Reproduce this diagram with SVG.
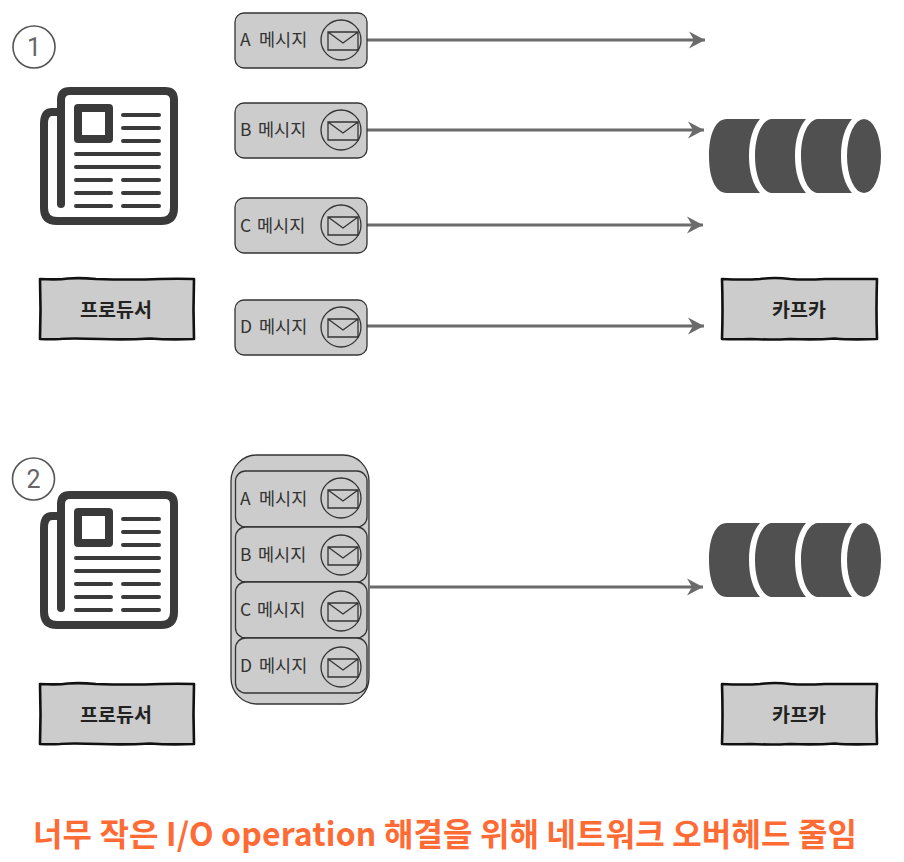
<svg xmlns="http://www.w3.org/2000/svg" width="904" height="862" viewBox="0 0 904 862">
<style>
text{font-family:"Noto Sans CJK KR","Noto Sans",sans-serif}
.msg{fill:#ccc;stroke:#333;stroke-width:1.3}
.line{fill:none;stroke:#333;stroke-width:1.3}
.lbl{font-size:17.500px;fill:#333}
.box{fill:#ccc;stroke:#111;stroke-width:2.6;stroke-linejoin:round}
.name{font-size:19.500px;font-weight:700;fill:#222;text-anchor:middle}
.num{fill:#fff;stroke:#555;stroke-width:1.6}
.numt{font-family:Roboto,sans-serif;font-size:25px;font-weight:400;fill:#666;text-anchor:middle}
.arrow{fill:none;stroke:#6b6b6b;stroke-width:3;marker-end:url(#head)}
.ico{fill:none;stroke:#3a3a3a;stroke-width:8;stroke-linecap:round;stroke-linejoin:round}
.ln{fill:none;stroke:#3a3a3a;stroke-width:4;stroke-linecap:round}
.title{font-size:32px;font-weight:700;fill:#ff6b35}
</style>
<defs>
<marker id="head" markerUnits="userSpaceOnUse" markerWidth="18" markerHeight="18" refX="17" refY="9" orient="auto">
<path d="M1 0.500L17 9L1 17.500L6 9Z" fill="#6b6b6b"/>
</marker>
<g id="env">
<circle cx="0" cy="0" r="20" class="line"/>
<path d="M-13-8H17V10H-13Z M-13-8L2 3L17-8" class="line"/>
</g>
<g id="paper">
<path d="M61 204V100Q61 91 70 91H165Q174 91 174 100V208Q174 221 161 221H57Q44 221 44 208V124Q44 112 52 112H61" class="ico"/>
<rect x="78" y="108" width="31" height="31" class="ico"/>
<path d="M123 115H159M123 128H159M123 141H159M76 154H159M76 167H159M76 180H111M123 180H159M76 193H111M123 193H159M76 206H111M123 206H159" class="ln"/>
</g>
<g id="drum" fill="#505050">
<path d="M760 119H727C715 119 709 135 709 156C709 177 715 193 727 193H760C753 185 749 172 749 156C749 140 753 127 760 119Z"/>
<path d="M806 119H771C761 121 755 137 755 156C755 175 761 191 771 193H806C799 185 795 172 795 156C795 140 799 127 806 119Z"/>
<path d="M852 119H817C807 121 801 137 801 156C801 175 807 191 817 193H852C845 185 841 172 841 156C841 140 845 127 852 119Z"/>
<ellipse cx="864" cy="156" rx="17" ry="37"/>
</g>
<path id="wob1" class="box" d="M40 279Q58 280 68 278.500Q80 277.500 96 279Q130 280 160 279Q178 278.500 194 279Q193 310 194 339Q170 340 150 338.500Q125 340 100 339Q70 338 60 339Q50 339.500 40 339Q41 310 40 279Z"/>
<path id="wob2" class="box" d="M722 279Q745 280 760 279Q775 277 790 279Q805 280 825 279Q850 279 877 279Q876 310 877 339Q850 340 835 338.500Q815 340 790 339Q770 340 750 339Q735 339.500 722 339Q723 310 722 279Z"/>
</defs>

<g id="connectors">
<path class="arrow" d="M367 40H705"/>
<path class="arrow" d="M367 130H704"/>
<path class="arrow" d="M367 225H703"/>
<path class="arrow" d="M367 326H704"/>
<path class="arrow" d="M370 587H703"/>
</g>

<g id="step-1"><circle class="num" cx="34" cy="47" r="21"/><text class="numt" x="34" y="56">1</text></g>
<g id="producer-icon-1"><use href="#paper"/></g>
<g id="producer-1"><use href="#wob1"/><text class="name" x="116" y="317">프로듀서</text></g>
<g id="msg-a"><rect class="msg" x="235" y="13" width="132" height="55" rx="9"/><text class="lbl" x="240" y="46">A<tspan x="259">메시지</tspan></text><use href="#env" x="341" y="40"/></g>
<g id="msg-b"><rect class="msg" x="235" y="103" width="132" height="55" rx="9"/><text class="lbl" x="240" y="136">B<tspan x="258">메시지</tspan></text><use href="#env" x="341" y="130"/></g>
<g id="msg-c"><rect class="msg" x="235" y="198" width="132" height="55" rx="9"/><text class="lbl" x="240" y="232">C<tspan x="257">메시지</tspan></text><use href="#env" x="341" y="225"/></g>
<g id="msg-d"><rect class="msg" x="235" y="300" width="132" height="55" rx="9"/><text class="lbl" x="240" y="333">D<tspan x="259">메시지</tspan></text><use href="#env" x="341" y="327"/></g>
<g id="kafka-icon-1"><use href="#drum"/></g>
<g id="kafka-1"><use href="#wob2"/><text class="name" x="799" y="317">카프카</text></g>

<g id="step-2"><circle class="num" cx="33.500" cy="479" r="21"/><text class="numt" x="33.500" y="488">2</text></g>
<g id="producer-icon-2"><use href="#paper" y="404"/></g>
<g id="producer-2"><use href="#wob1" y="405"/><text class="name" x="116" y="722">프로듀서</text></g>
<g id="batch">
<rect class="msg" x="231" y="455" width="138" height="249" rx="26"/>
<g id="batch-a"><rect class="msg" x="235.500" y="471" width="131.500" height="56" rx="10"/><text class="lbl" x="240" y="505">A<tspan x="259">메시지</tspan></text><use href="#env" x="341" y="498"/></g>
<g id="batch-b"><rect class="msg" x="235.500" y="527" width="131.500" height="55" rx="10"/><text class="lbl" x="240" y="561">B<tspan x="258">메시지</tspan></text><use href="#env" x="341" y="555"/></g>
<g id="batch-c"><rect class="msg" x="235.500" y="582" width="131.500" height="56" rx="10"/><text class="lbl" x="240" y="616">C<tspan x="257">메시지</tspan></text><use href="#env" x="341" y="611"/></g>
<g id="batch-d"><rect class="msg" x="235.500" y="638" width="131.500" height="55" rx="10"/><text class="lbl" x="240" y="672">D<tspan x="259">메시지</tspan></text><use href="#env" x="341" y="667"/></g>
</g>
<g id="kafka-icon-2"><use href="#drum" y="404"/></g>
<g id="kafka-2"><use href="#wob2" y="405"/><text class="name" x="799" y="722">카프카</text></g>

<text class="title" x="33" y="846" textLength="824" lengthAdjust="spacing">너무 작은 I/O operation 해결을 위해 네트워크 오버헤드 줄임</text>
</svg>
